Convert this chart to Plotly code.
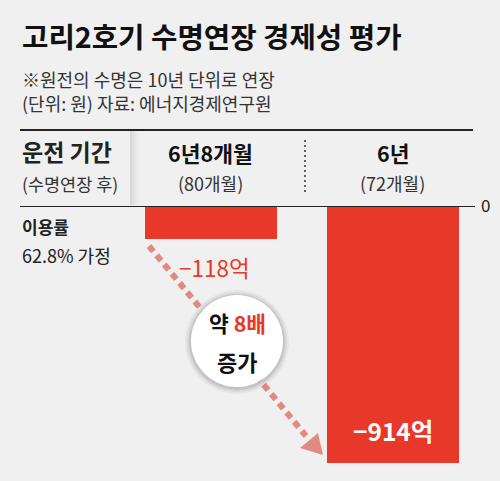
import plotly.graph_objects as go

# ---- data ----
categories = ["6년8개월", "6년"]
sub_labels = ["(80개월)", "(72개월)"]
values = [-118, -914]
value_labels = ["−118억", "−914억"]
title = "고리2호기 수명연장 경제성 평가"
note1 = "※원전의 수명은 10년 단위로 연장"
note2 = "(단위: 원) 자료: 에너지경제연구원"
row_head = ["운전 기간", "(수명연장 후)"]
row_label = ["이용률", "62.8% 가정"]
circle_text = ["약 ", "8배", "증가"]

W, H = 500, 481
ML, MR, MT, MB = 20, 25, 206, 11
PW, PH = W - ML - MR, H - MT - MB

def px(x):
    return (x - ML) / PW

def py(y):
    return (H - MB - y) / PH

FONT = "Noto Sans CJK KR"
RED = "#e8382a"
BG = "#f0f0f0"

fig = go.Figure()
fig.add_trace(go.Bar(
    x=categories, y=values, marker=dict(color=RED, line=dict(width=0)),
    width=0.725, hoverinfo="skip",
))

shapes = []
ann = []

# top rule
shapes.append(dict(type="line", xref="paper", yref="paper", x0=px(20), x1=px(473),
                   y0=py(130), y1=py(130), line=dict(color="#222", width=2)))
# zero line
shapes.append(dict(type="line", xref="paper", yref="y", x0=0, x1=1, y0=0, y1=0,
                   line=dict(color="#222", width=2), layer="above"))
# shadow in header
for i, op in enumerate([0.10, 0.07, 0.045, 0.025, 0.012]):
    shapes.append(dict(type="rect", xref="paper", yref="paper",
                       x0=px(130 + i * 2), x1=px(132 + i * 2), y0=py(205), y1=py(131),
                       fillcolor="#000", opacity=op, line=dict(width=0)))
# dotted vertical separator
shapes.append(dict(type="line", xref="paper", yref="paper", x0=px(305), x1=px(305),
                   y0=py(140), y1=py(192), line=dict(color="#333", width=1.5, dash="2px,3px")))
# dotted arrow
AC = "#e08a82"
shapes.append(dict(type="line", xref="paper", yref="paper", x0=px(149), y0=py(246),
                   x1=px(306), y1=py(436), line=dict(color=AC, width=6, dash="7px,5px"),
                   layer="above"))
ax, ay = [px(323), px(300), px(318)], [py(455), py(448), py(433)]
shapes.append(dict(type="path", xref="paper", yref="paper",
                   path=f"M {ax[0]} {ay[0]} L {ax[1]} {ay[1]} L {ax[2]} {ay[2]} Z",
                   fillcolor=AC, line=dict(width=0), layer="above"))
# circle with shadow
cx, cy, r = 237, 341, 46
for dr, op in [(6, 0.04), (4, 0.06), (2, 0.09)]:
    shapes.append(dict(type="circle", xref="paper", yref="paper",
                       x0=px(cx - r - dr), x1=px(cx + r + dr), y0=py(cy + r + dr + 1), y1=py(cy - r - dr + 1),
                       fillcolor="#000", opacity=op, line=dict(width=0), layer="above"))
shapes.append(dict(type="circle", xref="paper", yref="paper",
                   x0=px(cx - r), x1=px(cx + r), y0=py(cy + r), y1=py(cy - r),
                   fillcolor="#ffffff", line=dict(width=0), layer="above"))

def A(text, x, y, size, color="#111", xanchor="left", yanchor="middle", bold=False, xref="paper", yref="paper", **kw):
    t = f"<b>{text}</b>" if bold else text
    ann.append(dict(text=t, x=x, y=y, xref=xref, yref=yref, xanchor=xanchor, yanchor=yanchor,
                    showarrow=False, font=dict(family=FONT, size=size, color=color), **kw))

A(title, px(20), py(36), 28.7, "#111", bold=True)
A(note1, px(20), py(79), 18, "#333")
A(note2, px(20), py(103), 18, "#333")
A(row_head[0], px(20), py(151), 23, "#222", bold=True)
A(row_head[1], px(20), py(183), 17.5, "#333")
A(row_label[0], px(20), py(226), 17, "#222", bold=True)
A(row_label[1], px(20), py(255), 18, "#222")

for c, s in zip(categories, sub_labels):
    A(c, c, py(152), 21.5, "#111", xanchor="center", bold=True, xref="x")
    A(s, c, py(183), 18, "#333", xanchor="center", xref="x")

A(value_labels[0], categories[0], values[0], 22.5, RED, xanchor="center", yanchor="top",
  xref="x", yref="y", yshift=-10, xshift=4)
A(value_labels[1], categories[1], values[1], 24.5, "#ffffff", xanchor="center", yanchor="bottom",
  xref="x", yref="y", yshift=13, bold=True)

A(f"<b>{circle_text[0]}</b><b><span style='color:{RED}'>{circle_text[1]}</span></b>",
  px(cx), py(322), 21.5, "#111", xanchor="center")
A(circle_text[2], px(cx), py(361), 22, "#111", xanchor="center", bold=True)

fig.update_layout(
    width=W, height=H, margin=dict(l=ML, r=MR, t=MT, b=MB),
    paper_bgcolor=BG, plot_bgcolor=BG, showlegend=False,
    xaxis=dict(range=[-1.049, 1.451], showticklabels=False, showgrid=False, zeroline=False,
               showline=False, fixedrange=True),
    yaxis=dict(range=[-939, 0], side="right", tickvals=[0], ticktext=["0"], showgrid=False,
               zeroline=False, showline=False, ticks="", automargin=False,
               tickfont=dict(family=FONT, size=17, color="#222"), ticklabelstandoff=5),
    shapes=shapes, annotations=ann, bargap=0,
)
fig.write_html("out.html", config={"displayModeBar": False},
               post_script="document.body.style.margin='0';document.body.style.background='#f0f0f0';")
